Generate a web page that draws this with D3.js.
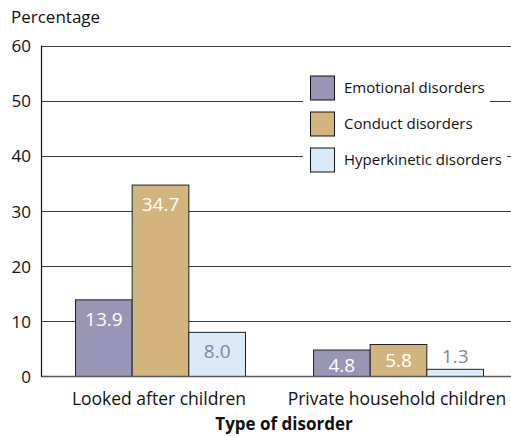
<!DOCTYPE html>
<html>
<head>
<meta charset="utf-8">
<script src="https://cdn.jsdelivr.net/npm/d3@7/dist/d3.min.js"></script>
<style>
  body { margin: 0; background: #fff; }
  svg { display: block; font-family: "Open Sans", "Noto Sans", sans-serif; }
</style>
</head>
<body>
<svg id="chart" width="511" height="436"></svg>
<script>
// Prevalence of mental disorders by type and child group
const groups = ["Looked after children", "Private household children"];
const seriesNames = ["Emotional disorders", "Conduct disorders", "Hyperkinetic disorders"];
const lookedAfter = [13.9, 34.7, 8.0];
const privateHousehold = [4.8, 5.8, 1.3];
const yTicks = [0, 10, 20, 30, 40, 50, 60];

const colors = ["#9896b4", "#d2b47e", "#dbeaf8"];
const labelColors = ["#ffffff", "#ffffff", "#8583a6"];

const values = [lookedAfter, privateHousehold];

const svg = d3.select("#chart");
const W = 511;
const margin = { left: 41, top: 45.5, bottom: 59.5 };
const plotBottom = 436 - margin.bottom;

const y = d3.scaleLinear().domain([0, 60]).range([plotBottom, margin.top]);
const x0 = d3.scaleBand().domain(groups).range([41, 517]);
const x1 = d3.scaleBand().domain(seriesNames).range([34, 204]);

// gridlines
svg.append("g").selectAll("line").data(yTicks.filter(d => d > 0)).join("line")
  .attr("x1", margin.left).attr("x2", W)
  .attr("y1", d => Math.round(y(d)) + 0.5).attr("y2", d => Math.round(y(d)) + 0.5)
  .attr("stroke", "#3a3a3a").attr("stroke-width", 1);

// y tick labels
svg.append("g").selectAll("text").data(yTicks).join("text")
  .attr("x", 31).attr("y", d => y(d) + 6.5)
  .attr("text-anchor", "end")
  .attr("font-size", 17).attr("fill", "#111")
  .text(d => d);

svg.append("text").attr("x", 11).attr("y", 23)
  .attr("font-size", 17).attr("fill", "#111").text("Percentage");

// bars
const gGroups = svg.append("g").selectAll("g").data(groups).join("g")
  .attr("transform", d => `translate(${x0(d)},0)`);

gGroups.each(function (g, gi) {
  const sel = d3.select(this);
  const vals = values[gi];
  vals.forEach((v, si) => {
    const bx = x1(seriesNames[si]);
    const bw = x1.bandwidth();
    sel.append("rect")
      .attr("x", bx + 0.5).attr("y", y(v))
      .attr("width", bw).attr("height", plotBottom - y(v))
      .attr("fill", colors[si]).attr("stroke", "#222").attr("stroke-width", 1);
    let ty;
    if (v >= 8) ty = y(v) + 26;
    else if (v >= 4) ty = y(v) + 22;
    else ty = y(v) - 6.5;
    sel.append("text")
      .attr("x", bx + bw / 2 + 0.5).attr("y", ty)
      .attr("text-anchor", "middle")
      .attr("font-size", 19)
      .attr("fill", labelColors[si])
      .text(v.toFixed(1));
  });
});

// axes lines
svg.append("line").attr("x1", margin.left).attr("x2", W)
  .attr("y1", plotBottom).attr("y2", plotBottom)
  .attr("stroke", "#555").attr("stroke-width", 1.5);
svg.append("line").attr("x1", margin.left + 0.5).attr("x2", margin.left + 0.5)
  .attr("y1", margin.top).attr("y2", plotBottom)
  .attr("stroke", "#111").attr("stroke-width", 1.2);

// category labels
const catX = [159, 397];
svg.append("g").selectAll("text").data(groups).join("text")
  .attr("x", (d, i) => catX[i]).attr("y", 404.5)
  .attr("text-anchor", "middle").attr("font-size", 17.5).attr("fill", "#111")
  .text(d => d);

svg.append("text").attr("x", 284).attr("y", 430)
  .attr("text-anchor", "middle").attr("font-size", 17).attr("font-weight", "bold")
  .attr("fill", "#111").text("Type of disorder");

// legend
const legendRight = [490, 490, 507];
const legend = svg.append("g").selectAll("g").data(seriesNames).join("g")
  .attr("transform", (d, i) => `translate(310,${75.5 + i * 36})`);
legend.append("rect")
  .attr("x", -7).attr("y", -4).attr("height", 33)
  .attr("width", (d, i) => legendRight[i] - 303)
  .attr("fill", "#fff");
legend.append("rect")
  .attr("x", 0.5).attr("y", 0.5).attr("width", 24).attr("height", 24)
  .attr("fill", (d, i) => colors[i]).attr("stroke", "#111").attr("stroke-width", 1);
legend.append("text")
  .attr("x", 34).attr("y", 17.8)
  .attr("font-size", 15).attr("fill", "#111")
  .text(d => d);
</script>
</body>
</html>
